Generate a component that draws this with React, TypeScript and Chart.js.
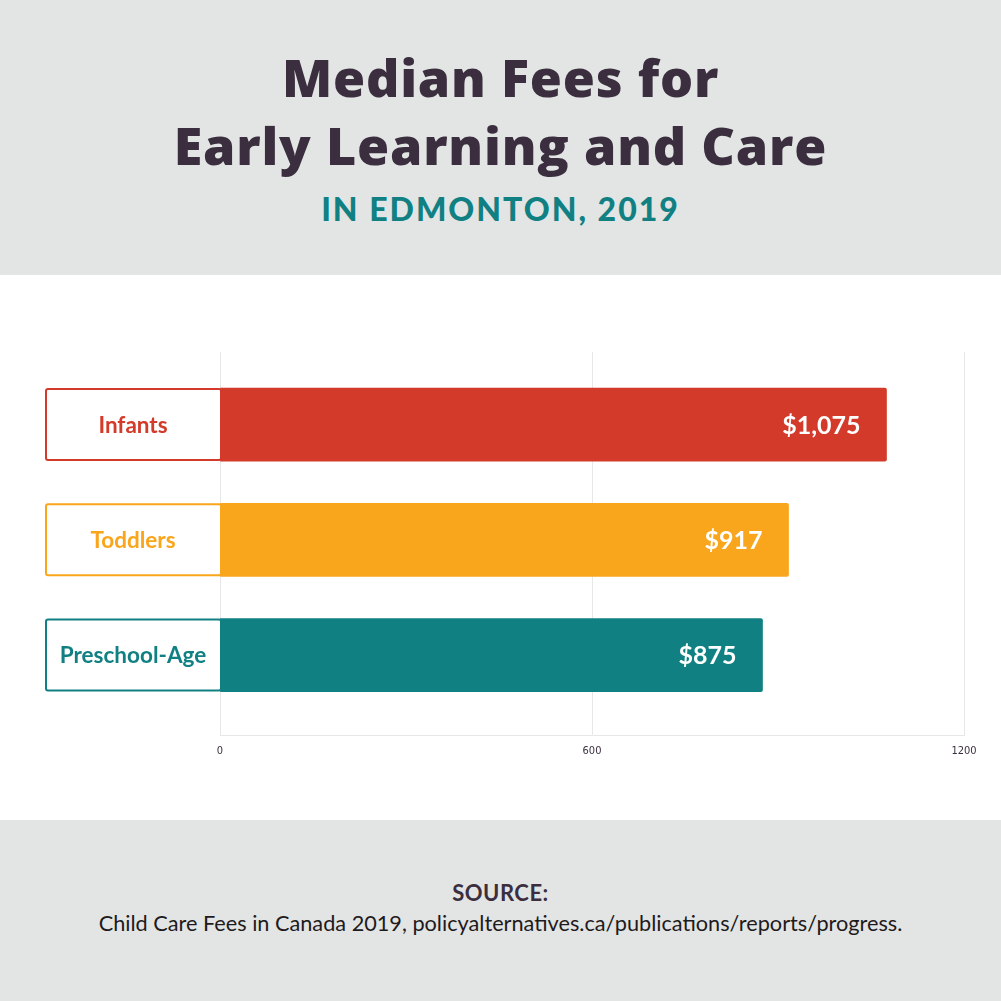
import React, { useEffect, useRef } from "react";
import { Chart, registerables } from "chart.js";

Chart.register(...registerables);

const categories = ["Infants", "Toddlers", "Preschool-Age"];
const fees = [1075, 917, 875];
const valueLabels = ["$1,075", "$917", "$875"];
const barColors = ["#d33a29", "#f9a61c", "#108083"];
const tickStep = 600;
const axisMax = 1200;

const TITLE = "#3b2f3f";
const TEAL = "#108083";
const GRAY_BG = "#e3e5e4";
const GRID = "#e7e7e7";

const labelBoxPlugin = {
  id: "labelBoxes",
  beforeDatasetsDraw(chart: any) {
    const ctx = chart.ctx;
    const meta = chart.getDatasetMeta(0);
    const left = chart.chartArea.left;
    meta.data.forEach((bar: any, i: number) => {
      const { y, height } = bar.getProps(["y", "height"], true);
      const top = y - height / 2;
      const x0 = left - 175;
      ctx.save();
      ctx.beginPath();
      ctx.roundRect(x0 + 1, top + 1, 175, height - 2, 2);
      ctx.fillStyle = "#ffffff";
      ctx.fill();
      ctx.lineWidth = 2;
      ctx.strokeStyle = barColors[i];
      ctx.stroke();
      ctx.fillStyle = barColors[i];
      ctx.font = "bold 22.5px Lato";
      ctx.textAlign = "center";
      ctx.textBaseline = "middle";
      ctx.fillText(categories[i], x0 + 88, y + 1);
      ctx.restore();
    });
  },
  afterDatasetsDraw(chart: any) {
    const ctx = chart.ctx;
    const meta = chart.getDatasetMeta(0);
    meta.data.forEach((bar: any, i: number) => {
      const { x, y } = bar.getProps(["x", "y"], true);
      ctx.save();
      ctx.fillStyle = "#ffffff";
      ctx.font = "bold 25px Lato";
      ctx.textAlign = "right";
      ctx.textBaseline = "middle";
      ctx.fillText(valueLabels[i], x - 26, y + 1);
      ctx.restore();
    });
  },
};

function App() {
  const ref = useRef<HTMLCanvasElement | null>(null);

  useEffect(() => {
    document.body.style.margin = "0";
    if (!ref.current) return;
    const chart = new Chart(ref.current, {
      type: "bar",
      data: {
        datasets: [
          {
            data: fees.map((v, i) => ({ x: v, y: i })) as any,
            backgroundColor: barColors,
            borderRadius: 2,
            borderSkipped: "start",
            barThickness: 73,
          },
        ],
      },
      options: {
        indexAxis: "y",
        animation: false,
        responsive: false,
        devicePixelRatio: 1,
        layout: { padding: { left: 220, right: 37, top: 77, bottom: 53 } },
        plugins: {
          legend: { display: false },
          tooltip: { enabled: false },
        },
        scales: {
          x: {
            type: "linear",
            min: 0,
            max: axisMax,
            grid: { color: GRID, drawTicks: false, lineWidth: 1 },
            border: { display: true, color: GRID },
            ticks: {
              stepSize: tickStep,
              padding: 9,
              color: TITLE,
              callback: (v: any) => String(v),
              font: { family: "'DejaVu Sans Condensed', 'Liberation Sans Narrow', Lato", size: 11 },
            },
          },
          y: {
            type: "linear",
            reverse: true,
            offset: false,
            min: -0.63,
            max: 2.7,
            display: false,
          },
        },
      },
      plugins: [labelBoxPlugin],
    });
    return () => chart.destroy();
  }, []);

  const titleStyle: any = {
    position: "absolute",
    left: 0,
    width: 1001,
    textAlign: "center",
    fontFamily: "'Open Sans', Lato, sans-serif",
    fontSize: 52,
    lineHeight: 1,
    fontWeight: 800,
    letterSpacing: 0.8,
    color: TITLE,
  };

  return (
    <div style={{ width: 1001, height: 1001, position: "relative", fontFamily: "Lato, sans-serif" }}>
      <div style={{ position: "absolute", left: 0, top: 0, width: 1001, height: 275, background: GRAY_BG }}>
        <div style={{ ...titleStyle, top: 51 }}>Median Fees for</div>
        <div style={{ ...titleStyle, top: 119 }}>Early Learning and Care</div>
        <div style={{ position: "absolute", left: 0, width: 1001, top: 193, textAlign: "center", fontSize: 32, lineHeight: 1, fontWeight: 900, letterSpacing: 2, color: TEAL }}>
          IN EDMONTON, 2019
        </div>
      </div>
      <div style={{ position: "absolute", left: 0, top: 275, width: 1001, height: 545, background: "#ffffff" }}>
        <canvas ref={ref} width={1001} height={545} style={{ display: "block", width: 1001, height: 545 }} />
      </div>
      <div style={{ position: "absolute", left: 0, top: 820, width: 1001, height: 181, background: GRAY_BG }}>
        <div style={{ position: "absolute", left: 0, width: 1001, top: 62, textAlign: "center", fontSize: 22, lineHeight: 1, fontWeight: 700, letterSpacing: 0.5, color: TITLE }}>
          SOURCE:
        </div>
        <div style={{ position: "absolute", left: 0, width: 1001, top: 93, textAlign: "center", fontSize: 21.7, lineHeight: 1, fontWeight: 400, color: "#1e1a20" }}>
          Child Care Fees in Canada 2019, policyalternatives.ca/publications/reports/progress.
        </div>
      </div>
    </div>
  );
}

export default App;
